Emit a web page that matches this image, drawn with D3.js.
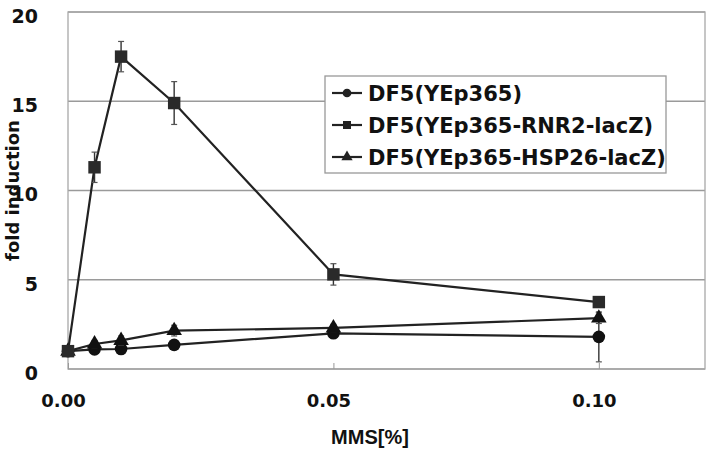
<!DOCTYPE html>
<html><head><meta charset="utf-8">
<script src="https://cdn.jsdelivr.net/npm/d3@7"></script>
<style>body{margin:0;background:#fff}</style>
</head><body><svg id="c" width="711" height="451"></svg>
<script>
const doses = [0, 0.005, 0.01, 0.02, 0.05, 0.10];
const seriesNames = ["DF5(YEp365)", "DF5(YEp365-RNR2-lacZ)", "DF5(YEp365-HSP26-lacZ)"];
const vecValues = [1.0, 1.1, 1.12, 1.35, 2.0, 1.8];
const vecErrors = [0.1, 0.15, 0.15, 0.2, 0.25, 1.4];
const rnrValues = [1.0, 11.3, 17.5, 14.9, 5.3, 3.75];
const rnrErrors = [0.1, 0.85, 0.85, 1.2, 0.6, 0.15];
const hspValues = [1.0, 1.4, 1.6, 2.15, 2.3, 2.85];
const hspErrors = [0.1, 0.2, 0.25, 0.3, 0.2, 0.3];
const yTicks = [0, 5, 10, 15, 20];
const xTicks = [0, 0.05, 0.10];
const xTitle = "MMS[%]";
const yTitle = "fold induction";

const series = [
  {name: seriesNames[0], values: vecValues, errors: vecErrors, symbol: d3.symbolCircle, size: 125, lsize: 60},
  {name: seriesNames[2], values: hspValues, errors: hspErrors, symbol: d3.symbolTriangle, size: 105, lsize: 55},
  {name: seriesNames[1], values: rnrValues, errors: rnrErrors, symbol: d3.symbolSquare, size: 155, lsize: 64}
];

const svg = d3.select("#c");
const m = {l: 68, t: 12, r: 6, b: 82};
const W = 711, H = 451;
const x = d3.scaleLinear().domain([0, 0.12]).range([m.l, W - m.r]);
const y = d3.scaleLinear().domain([0, 20]).range([H - m.b, m.t]);

const tickFont = "'DejaVu Sans', sans-serif";

// gridlines
svg.append("g").selectAll("line").data(yTicks).join("line")
  .attr("x1", x(0)).attr("x2", x(0.12))
  .attr("y1", d => y(d)).attr("y2", d => y(d))
  .attr("stroke", "#9a9a9a").attr("stroke-width", 1.3);
// plot border
svg.append("rect").attr("x", x(0)).attr("y", y(20))
  .attr("width", x(0.12) - x(0)).attr("height", y(0) - y(20))
  .attr("fill", "none").attr("stroke", "#a8a8a8").attr("stroke-width", 1.3);

// x axis ticks (inward) and labels
const xAxis = d3.axisBottom(x).tickValues(xTicks).tickSize(-6).tickPadding(25)
  .tickFormat(d3.format(".2f"));
const gx = svg.append("g").attr("transform", `translate(0,${y(0)})`).call(xAxis);
gx.select(".domain").remove();
gx.selectAll(".tick line").attr("stroke", "#999");
gx.selectAll(".tick text").attr("font-family", tickFont).attr("font-weight", "bold")
  .attr("font-size", 18).attr("fill", "#111").attr("dx", -5);

// y axis labels
const yAxis = d3.axisLeft(y).tickValues(yTicks).tickSize(0).tickPadding(30);
const gy = svg.append("g").attr("transform", `translate(${x(0)},0)`).call(yAxis);
gy.select(".domain").remove();
gy.selectAll(".tick text").attr("font-family", tickFont).attr("font-weight", "bold")
  .attr("font-size", 19).attr("fill", "#111").attr("dy", "0.55em");

// titles
svg.append("text").attr("x", 370).attr("y", 444).attr("text-anchor", "middle")
  .attr("font-family", "'Liberation Sans', Arial, sans-serif").attr("font-weight", "bold").attr("font-size", 20)
  .attr("fill", "#111").text(xTitle);
svg.append("text").attr("transform", `translate(19,${(y(0) + y(20)) / 2}) rotate(-90)`)
  .attr("text-anchor", "middle").attr("font-family", tickFont).attr("font-weight", "bold")
  .attr("font-size", 18).attr("fill", "#111").text(yTitle);

// series
const line = d3.line().x(d => x(d[0])).y(d => y(d[1]));
series.forEach(s => {
  const pts = doses.map((d, i) => [d, s.values[i], s.errors[i]]);
  const g = svg.append("g");
  g.append("path").attr("d", line(pts)).attr("fill", "none")
    .attr("stroke", "#222").attr("stroke-width", 2.2);
  const eb = g.selectAll("g.eb").data(pts).join("g");
  eb.append("line").attr("x1", d => x(d[0])).attr("x2", d => x(d[0]))
    .attr("y1", d => y(d[1] - d[2])).attr("y2", d => y(d[1] + d[2]))
    .attr("stroke", "#333").attr("stroke-width", 1.4);
  [1, -1].forEach(sg => {
    eb.append("line").attr("x1", d => x(d[0]) - 3).attr("x2", d => x(d[0]) + 3)
      .attr("y1", d => y(d[1] + sg * d[2])).attr("y2", d => y(d[1] + sg * d[2]))
      .attr("stroke", "#555").attr("stroke-width", 1.2);
  });
  g.selectAll("path.mk").data(pts).join("path").attr("class", "mk")
    .attr("transform", d => `translate(${x(d[0])},${y(d[1])})`)
    .attr("d", d3.symbol(s.symbol, s.size)).attr("fill", s.symbol === d3.symbolSquare ? "#2a2a2a" : "#111");
});

// legend (in the order of seriesNames)
const lg = svg.append("g");
lg.append("rect").attr("x", 325).attr("y", 76).attr("width", 341).attr("height", 97)
  .attr("fill", "#fff").attr("stroke", "#999").attr("stroke-width", 1.3);
seriesNames.forEach((nm, k) => {
  const s = series.find(z => z.name === nm);
  const cy = 93 + k * 32;
  lg.append("line").attr("x1", 332).attr("x2", 362).attr("y1", cy).attr("y2", cy)
    .attr("stroke", "#222").attr("stroke-width", 2.2);
  lg.append("path").attr("transform", `translate(347,${cy})`)
    .attr("d", d3.symbol(s.symbol, s.lsize)).attr("fill", "#222");
  lg.append("text").attr("x", 368).attr("y", cy).attr("dy", "0.36em")
    .attr("font-family", tickFont).attr("font-weight", "bold").attr("font-size", 21)
    .attr("fill", "#111").text(s.name);
});
</script></body></html>
